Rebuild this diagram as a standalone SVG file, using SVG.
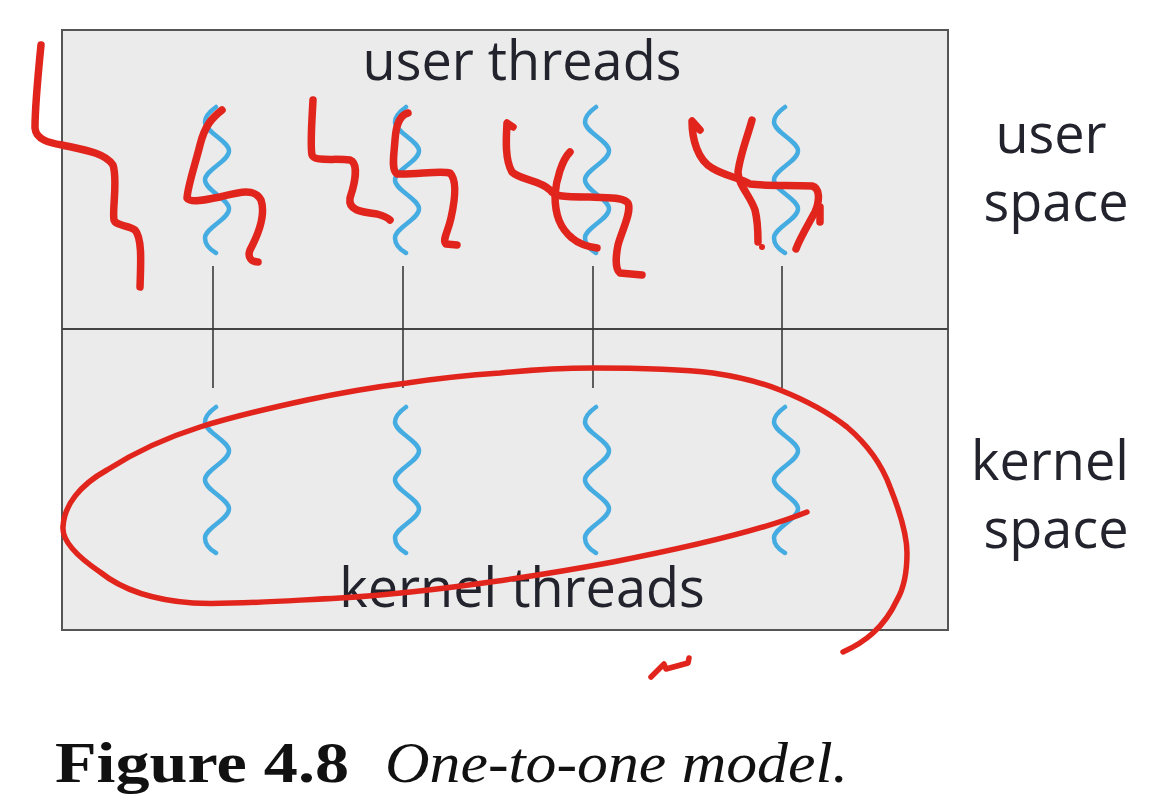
<svg xmlns="http://www.w3.org/2000/svg" xmlns:xlink="http://www.w3.org/1999/xlink" width="1150" height="802" viewBox="0 0 1150 802">
<style>
.lbl{font-family:"Open Sans","Noto Sans","DejaVu Sans",sans-serif;font-size:54px;fill:#23232d;text-anchor:middle}
.wave{fill:none;stroke:#45ace2;stroke-width:4.5;stroke-linecap:round;stroke-linejoin:round}
.conn{stroke:#3a3a3a;stroke-width:1.6;fill:none}
.red{fill:none;stroke:#e1251d;stroke-width:7.5;stroke-linecap:round;stroke-linejoin:round}
.redthin{fill:none;stroke:#e1251d;stroke-width:5.5;stroke-linecap:round;stroke-linejoin:round}
.cap{font-family:"Liberation Serif","Times New Roman",serif;font-size:58px;fill:#111}
</style>
<defs>
<path id="wave" d="M -1,0 C -8,5 -12,10 -12,15 C -12,25 12,34 12,44 C 12,54 -12,63 -12,73 C -12,83 12,92 12,102 C 12,112 -12,121 -12,131 C -12,137 -8,142 -1,146"/>
</defs>
<rect width="1150" height="802" fill="#ffffff"/>
<g id="frame">
<rect x="62" y="30" width="886" height="600" fill="#ebebeb" stroke="#555555" stroke-width="2"/>
<line x1="62" y1="329" x2="948" y2="329" stroke="#444444" stroke-width="2"/>
</g>
<g id="labels">
<text class="lbl" x="522" y="80">user threads</text>
<text class="lbl" x="522" y="607">kernel threads</text>
<text class="lbl" x="1051" y="153">user</text>
<text class="lbl" x="1056" y="221">space</text>
<text class="lbl" x="1050" y="480">kernel</text>
<text class="lbl" x="1056" y="548">space</text>
</g>
<g id="connectors">
<line class="conn" x1="213" y1="266" x2="213" y2="388"/>
<line class="conn" x1="403" y1="266" x2="403" y2="388"/>
<line class="conn" x1="593" y1="266" x2="593" y2="388"/>
<line class="conn" x1="782" y1="266" x2="782" y2="388"/>
</g>
<g id="user-thread-1"><use xlink:href="#wave" href="#wave" class="wave" transform="translate(217,107)"/></g>
<g id="user-thread-2"><use xlink:href="#wave" href="#wave" class="wave" transform="translate(407,107)"/></g>
<g id="user-thread-3"><use xlink:href="#wave" href="#wave" class="wave" transform="translate(597,107)"/></g>
<g id="user-thread-4"><use xlink:href="#wave" href="#wave" class="wave" transform="translate(786,107)"/></g>
<g id="kernel-thread-1"><use xlink:href="#wave" href="#wave" class="wave" transform="translate(217,407)"/></g>
<g id="kernel-thread-2"><use xlink:href="#wave" href="#wave" class="wave" transform="translate(407,407)"/></g>
<g id="kernel-thread-3"><use xlink:href="#wave" href="#wave" class="wave" transform="translate(597,407)"/></g>
<g id="kernel-thread-4"><use xlink:href="#wave" href="#wave" class="wave" transform="translate(786,407)"/></g>
<g id="annotations">
<path class="red" d="M 41,45 C 38,75 35,105 35,128 C 36,140 50,143 62,145 C 85,150 105,153 113,165 C 118,180 112,210 114,220 C 116,226 128,225 135,230 C 142,238 141,260 140,287"/>
<path class="red" d="M 222,110 C 212,118 205,125 200,145 C 195,165 188,185 187,198 C 190,203 205,200 220,197 C 240,192 255,188 261,200 C 266,215 258,235 250,250 C 247,258 252,262 258,262"/>
<path class="red" d="M 313,100 C 312,120 310,145 312,155 C 314,162 335,158 350,160 C 358,163 356,180 350,198 C 348,210 360,212 377,214 C 384,216 388,218 390,220"/>
<path class="red" d="M 408,113 C 400,115 396,125 395,140 C 394,155 391,170 397,174 C 415,175 440,170 450,173 C 457,180 455,200 451,218 C 448,232 442,240 446,244 L 457,245"/>
<path class="red" d="M 513,127 L 507,123 C 506,140 505,160 512,172 C 520,180 540,180 550,190 C 554,196 560,197 590,197 C 610,198 624,197 628,203 C 632,212 622,230 618,245 C 615,260 616,270 620,273 L 642,275"/>
<path class="red" d="M 570,152 C 562,160 556,180 555,195 C 555,215 560,228 572,238 C 580,245 590,247 597,248"/>
<path class="red" d="M 700,130 L 692,121 C 692,140 698,160 712,168 C 725,176 740,178 750,184 C 765,186 790,185 812,186 C 820,188 820,200 815,212 C 808,225 800,238 796,249"/>
<path class="red" d="M 820,207 L 820,222"/>
<path class="red" d="M 752,120 C 748,135 740,155 738,172 C 738,185 750,195 755,210 C 758,222 758,235 758,242"/>
<circle cx="762" cy="247" r="3" fill="#e1251d"/>
<path class="redthin" d="M 807,512 C 770,527 700,545 613,562 C 560,572 440,592 340,598 C 280,601 230,605 193,603 C 150,600 120,588 100,572 C 75,555 62,540 63,527 C 64,505 80,485 107,470 C 135,452 165,438 200,427 C 235,416 270,408 307,400 C 340,393 375,387 407,383 C 440,378 470,375 500,373 C 530,370 560,368 593,368 C 640,368 680,369 713,373 C 740,377 760,382 780,390 C 805,400 828,412 847,427 C 868,445 882,465 890,487 C 900,512 907,535 907,553 C 907,572 904,588 897,600 C 890,615 882,625 873,633 C 862,643 852,648 843,652"/>
<path class="redthin" d="M 651,677 L 664,664 L 666,669 L 688,663 L 689,658"/>
</g>
<g id="caption">
<text class="cap" x="55" y="782" font-weight="bold" textLength="294" lengthAdjust="spacingAndGlyphs">Figure 4.8</text>
<text class="cap" x="385" y="782" font-style="italic" textLength="463" lengthAdjust="spacingAndGlyphs">One-to-one model.</text>
</g>
</svg>
